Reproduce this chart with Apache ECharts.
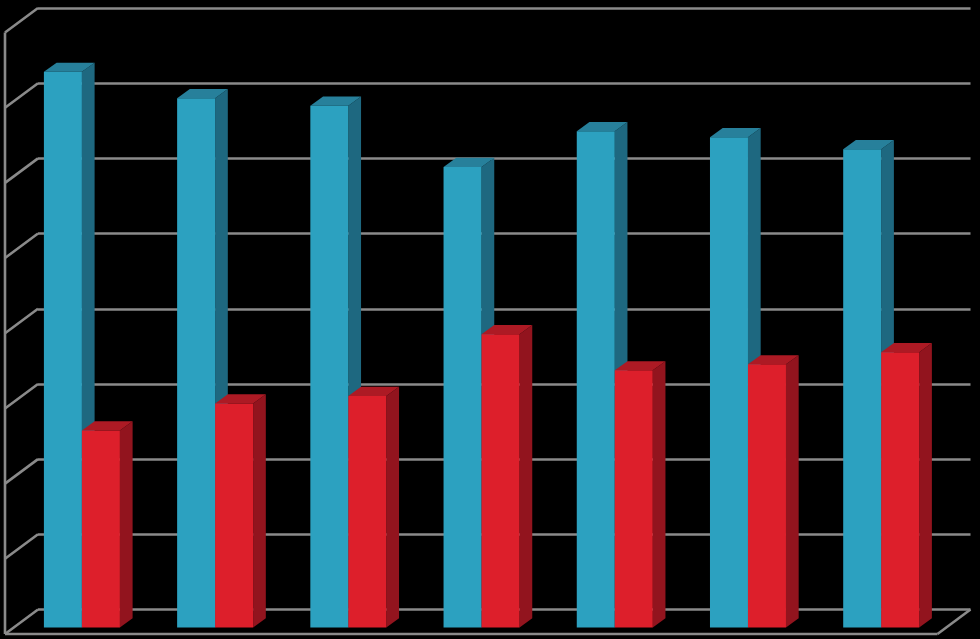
<!DOCTYPE html>
<html><head><meta charset="utf-8">
<style>html,body{margin:0;padding:0;background:#000}#c{width:980px;height:639px}</style>
<script src="https://cdn.jsdelivr.net/npm/echarts@6/dist/echarts.min.js"></script>
</head><body><div id="c"></div>
<script>
const categories = ['1','2','3','4','5','6','7'];
const blueValues = [73.9, 70.4, 69.4, 61.25, 66.0, 65.2, 63.6];
const redValues  = [26.2, 29.8, 30.8, 39.0, 34.2, 35.0, 36.6];
const axisTicks  = [0,10,20,30,40,50,60,70,80];

const FLOOR_DX = -33, FLOOR_DY = 24.5;   // back wall to front edge of the floor
const BAR_OFF_DX = -22.7, BAR_OFF_DY = 18; // back wall to bar front face
const BAR_W = 38, DEPTH_DX = 12.7, DEPTH_DY = 9.2;
const LINE_COLOR = '#8a8a8a', LINE_W = 2.6;
const LINE = {stroke:LINE_COLOR, lineWidth:LINE_W};

function barRender(side, front, top, dark){
  return function(params, api){
    const v = api.value(1);
    const c = api.coord([api.value(0), v]);
    const b = api.coord([api.value(0), 0]);
    const cx = c[0] + BAR_OFF_DX;
    const x0 = side < 0 ? cx - BAR_W : cx, x1 = x0 + BAR_W;
    const yT = c[1] + BAR_OFF_DY, yB = b[1] + BAR_OFF_DY;
    return {type:'group', children:[
      {type:'polygon', shape:{points:[[x1,yT],[x1+DEPTH_DX,yT-DEPTH_DY],[x1+DEPTH_DX,yB-DEPTH_DY],[x1,yB]]}, style:{fill:dark}},
      {type:'polygon', shape:{points:[[x0,yT],[x1,yT],[x1+DEPTH_DX,yT-DEPTH_DY],[x0+DEPTH_DX,yT-DEPTH_DY]]}, style:{fill:top}},
      {type:'rect', shape:{x:x0,y:yT,width:BAR_W,height:yB-yT}, style:{fill:front}}
    ]};
  };
}
function frameRender(params, api){
  const t = api.value(0);
  const p = api.coord([0, t]);
  const rect = params.coordSys;
  const x = rect.x, r = rect.x + rect.width;
  const kids = [
    {type:'line', shape:{x1:x, y1:p[1], x2:x+FLOOR_DX, y2:p[1]+FLOOR_DY}, style:LINE}
  ];
  if (t === axisTicks[0]) {
    const top = api.coord([0, axisTicks[axisTicks.length-1]]);
    kids.push(
      {type:'line', shape:{x1:x+FLOOR_DX, y1:top[1]+FLOOR_DY, x2:x+FLOOR_DX, y2:p[1]+FLOOR_DY}, style:LINE},
      {type:'line', shape:{x1:x+FLOOR_DX, y1:p[1]+FLOOR_DY, x2:r+FLOOR_DX, y2:p[1]+FLOOR_DY}, style:LINE},
      {type:'line', shape:{x1:r+FLOOR_DX, y1:p[1]+FLOOR_DY, x2:r, y2:p[1]}, style:LINE}
    );
  }
  return {type:'group', children:kids};
}
const chart = echarts.init(document.getElementById('c'), null, {renderer:'canvas'});
chart.setOption({
  backgroundColor:'#000',
  animation:false,
  grid:{left:38, top:8, width:932.5, height:601.5, containLabel:false},
  xAxis:{type:'category', data:categories, show:false},
  yAxis:{type:'value', min:0, max:80, interval:10,
    axisLine:{show:false}, axisTick:{show:false}, axisLabel:{show:false},
    splitLine:{show:true, lineStyle:{color:LINE_COLOR, width:LINE_W}}},
  series:[
    {type:'custom', silent:true, z:1, clip:false, coordinateSystem:'cartesian2d',
     encode:{y:0}, data:axisTicks.map(t=>[t]), renderItem:frameRender},
    {type:'custom', name:'blue', z:3, clip:false, encode:{x:0,y:1},
     data:blueValues.map((v,i)=>[i,v]), renderItem:barRender(-1,'#2ca1c0','#27809b','#1e6880')},
    {type:'custom', name:'red', z:4, clip:false, encode:{x:0,y:1},
     data:redValues.map((v,i)=>[i,v]), renderItem:barRender(1,'#dd1f2b','#ad1a24','#92141e')}
  ]
});
</script></body></html>
